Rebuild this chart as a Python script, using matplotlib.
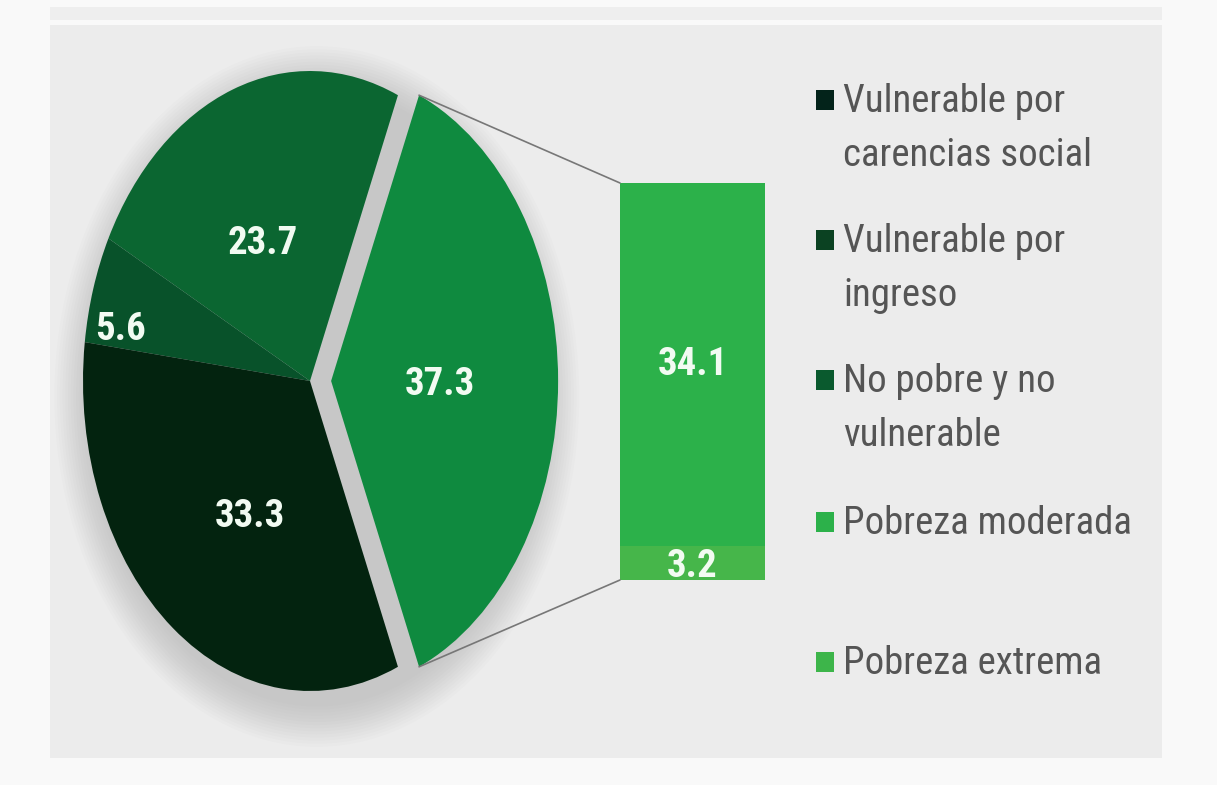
import matplotlib
matplotlib.use("Agg")
import matplotlib.pyplot as plt
from matplotlib.patches import Rectangle, Ellipse, ConnectionPatch
from matplotlib import font_manager
import numpy as np

# ---------------- data ----------------
pie_labels = ["Pobreza", "No pobre y no vulnerable", "Vulnerable por ingreso",
              "Vulnerable por carencias social"]
pie_values = [37.3, 23.7, 5.6, 33.3]
pie_colors = ["#0f8a3f", "#0b6631", "#08522a", "#03230f"]

bar_labels = ["Pobreza extrema", "Pobreza moderada"]
bar_values = [3.2, 34.1]
bar_colors = ["#46b64a", "#2cb14a"]

legend_labels = ["Vulnerable por\ncarencias social", "Vulnerable por\ningreso",
                 "No pobre y no\nvulnerable", "Pobreza moderada", "Pobreza extrema"]
legend_colors = ["#03231a", "#0b4222", "#0a5a2e", "#2cb14a", "#3db54a"]

# ---------------- fonts ----------------
fl = font_manager.fontManager.ttflist
names = {f.name for f in fl}
STRETCH = "normal"
FONT = None
for cand in ["Liberation Sans Narrow", "Roboto Condensed", "Open Sans Condensed",
             "Noto Sans Condensed", "DejaVu Sans Condensed"]:
    if cand in names:
        FONT = cand
        break
if FONT is None:
    for f in fl:
        if f.name in ("Roboto", "Open Sans", "Noto Sans", "DejaVu Sans") and \
                str(f.stretch) in ("condensed", "semi-condensed", "75", "87", "62"):
            FONT, STRETCH = f.name, f.stretch
            break
if FONT is None:
    FONT = "Roboto" if "Roboto" in names else "DejaVu Sans"

W, H = 1217, 785
fig = plt.figure(figsize=(W / 100, H / 100), dpi=100)
fig.patch.set_facecolor("#f9f9f9")
renderer = fig.canvas.get_renderer()

def fit_size(text, target_w, max_size, weight="normal"):
    t = fig.text(0, 0, text, fontsize=max_size, family=FONT, fontstretch=STRETCH,
                 fontweight=weight)
    w = t.get_window_extent(renderer).width
    t.remove()
    return min(max_size, max_size * target_w / w)

def fx(px):
    return px / W

def fy(py):
    return 1 - py / H

# background panel
bg = fig.add_axes([0, 0, 1, 1])
bg.set_xlim(0, W)
bg.set_ylim(H, 0)
bg.axis("off")
bg.add_patch(Rectangle((50, 7), 1112, 13, color="#eeeeee", lw=0))
bg.add_patch(Rectangle((50, 25), 1112, 733, color="#ececec", lw=0))

# ---------------- pie ----------------
cx, cy, rx, ry = 310, 381, 227, 310
xl, xr = -1.15, 1.35
ax = fig.add_axes([fx(cx + xl * rx), fy(cy + 1.1 * ry),
                   (xr - xl) * rx / W, 2.2 * ry / H])
for i in range(14):
    ax.add_patch(Ellipse((0.03, -0.05), 2 * (1.0 + 0.012 * i), 2 * (1.0 + 0.01 * i),
                         color="#9a9a9a", alpha=0.035, lw=0, zorder=0, clip_on=False))
startangle = -pie_values[0] / sum(pie_values) * 180
explode = [0.093, 0, 0, 0]
wedges, _ = ax.pie(pie_values, colors=pie_colors, startangle=startangle,
                   explode=explode, radius=1, counterclock=True,
                   wedgeprops=dict(linewidth=0))
ax.set_aspect("auto")
ax.set_xlim(xl, xr)
ax.set_ylim(-1.1, 1.1)
ax.axis("off")

num_fs = fit_size("37.3", 72, 28, "bold")
label_r = [0.48, 0.49, 0.85, 0.51]
label_shift = [0, 5, 6, 6]
for w, v, r, s in zip(wedges, pie_values, label_r, label_shift):
    mid = np.deg2rad((w.theta1 + w.theta2) / 2 + s)
    x0, y0 = w.center
    ax.text(x0 + r * np.cos(mid), y0 + r * np.sin(mid) - (0.01 if r < 0.49 else 0),
            f"{v}", ha="center", va="center", color="#f2fbf2", fontsize=num_fs,
            fontweight="bold", family=FONT, fontstretch=STRETCH, zorder=5)

# ---------------- bar ----------------
bx0, bx1, by0, by1 = 620, 765, 183, 580
bax = fig.add_axes([fx(bx0), fy(by1), (bx1 - bx0) / W, (by1 - by0) / H])
bottom = 0
for lab, v, c in zip(bar_labels, bar_values, bar_colors):
    bax.bar([0], [v], bottom=bottom, width=1, color=c, lw=0)
    bax.text(0, bottom + v / 2 - (0.35 if v < 5 else 0), f"{v}", ha="center",
             va="center", color="#f2fbf2", fontsize=num_fs, fontweight="bold",
             family=FONT, fontstretch=STRETCH)
    bottom += v
bax.set_xlim(-0.5, 0.5)
bax.set_ylim(0, sum(bar_values))
bax.axis("off")

# connector lines
w0 = wedges[0]
ccx, ccy = w0.center
for ang, yb in [(w0.theta2, sum(bar_values)), (w0.theta1, 0)]:
    t = np.deg2rad(ang)
    con = ConnectionPatch(xyA=(ccx + np.cos(t), ccy + np.sin(t)), coordsA=ax.transData,
                          xyB=(-0.5, yb), coordsB=bax.transData,
                          color="#777777", lw=1.2)
    fig.add_artist(con)

# ---------------- legend ----------------
leg_fs = fit_size("Pobreza moderada", 290, 29)
leg_y = [100, 240, 380, 522, 662]
for lab, c, y in zip(legend_labels, legend_colors, leg_y):
    bg.add_patch(Rectangle((816, y - 10), 18, 20, color=c, lw=0))
    bg.text(843, y - 17, lab, ha="left", va="top", color="#555555",
            fontsize=leg_fs, family=FONT, fontstretch=STRETCH, linespacing=1.6)

fig.savefig("out.png", dpi=100, facecolor=fig.get_facecolor())
